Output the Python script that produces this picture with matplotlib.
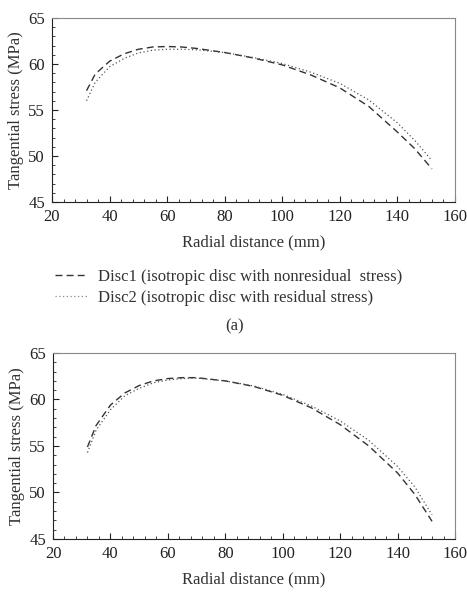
import matplotlib
matplotlib.use("Agg")
import matplotlib.pyplot as plt
from matplotlib.ticker import MultipleLocator
from matplotlib.lines import Line2D

# Radial position (mm)
radius = [32, 35, 40, 45, 50, 55, 60, 65, 70, 80, 90, 100, 110, 120, 130, 140, 146, 152]

# (a) tangential stress (MPa)
disc1_a = [57.1, 58.9, 60.3, 61.1, 61.6, 61.85, 61.9, 61.85, 61.7, 61.25, 60.65, 59.9, 58.8, 57.4, 55.4, 52.6, 50.8, 48.6]
disc2_a = [56.0, 58.0, 59.7, 60.6, 61.2, 61.5, 61.6, 61.6, 61.55, 61.25, 60.7, 60.05, 59.1, 57.9, 56.1, 53.6, 51.7, 49.5]

# (b) tangential stress (MPa)
disc1_b = [54.9, 57.2, 59.4, 60.7, 61.5, 62.0, 62.25, 62.35, 62.35, 62.0, 61.4, 60.45, 59.1, 57.3, 55.0, 52.1, 49.8, 46.9]
disc2_b = [54.3, 56.7, 58.9, 60.4, 61.2, 61.8, 62.1, 62.25, 62.3, 62.0, 61.45, 60.55, 59.3, 57.7, 55.6, 52.8, 50.6, 47.6]

legend_labels = ["Disc1 (isotropic disc with nonresidual  stress)",
                 "Disc2 (isotropic disc with residual stress)"]

plt.rcParams['font.family'] = ['Liberation Serif', 'DejaVu Serif']
line_color = '#333333'
fs = 12


def style_axes(ax):
    ax.set_xlim(20, 160)
    ax.set_ylim(45, 65)
    ax.xaxis.set_major_locator(MultipleLocator(20))
    ax.xaxis.set_minor_locator(MultipleLocator(4))
    ax.yaxis.set_major_locator(MultipleLocator(5))
    ax.yaxis.set_minor_locator(MultipleLocator(1))
    ax.tick_params(which='both', direction='in', top=False, right=False, labelsize=fs, colors='#222222')
    ax.tick_params(which='major', length=4, width=0.8, pad=5)
    ax.tick_params(which='minor', length=2, width=0.6)
    ax.spines['top'].set_color('#888888')
    ax.spines['right'].set_color('#888888')
    ax.spines['left'].set_color('#222222')
    ax.spines['bottom'].set_color('#222222')
    ax.set_xlabel("Radial distance (mm)", fontsize=fs, color='#333333', labelpad=7)
    ax.set_ylabel("Tangential stress (MPa)", fontsize=fs, color='#333333', labelpad=3)


fig = plt.figure(figsize=(4.67, 5.97), dpi=100)

ax1 = fig.add_axes([52 / 467, 1 - 202 / 597, 403 / 467, 184 / 597])
ax1.plot(radius, disc1_a, linestyle=(0, (5, 3)), color=line_color, lw=1.0)
ax1.plot(radius, disc2_a, linestyle=(0, (1, 2)), color='#555555', lw=0.9)
style_axes(ax1)

ax2 = fig.add_axes([53 / 467, 1 - 539 / 597, 402 / 467, 186 / 597])
ax2.plot(radius, disc1_b, linestyle=(0, (5, 3)), color=line_color, lw=1.0)
ax2.plot(radius, disc2_b, linestyle=(0, (1, 2)), color='#555555', lw=0.9)
style_axes(ax2)

handles = [Line2D([], [], linestyle=(0, (5, 3)), color=line_color, lw=1.0),
           Line2D([], [], linestyle=(0, (1, 2)), color='#888888', lw=0.9)]
fig.legend(handles, legend_labels, loc='upper left', bbox_to_anchor=(40 / 467, 1 - 254 / 597),
           frameon=False, fontsize=fs, handlelength=2.0, handletextpad=0.6, labelspacing=0.3,
           labelcolor='#333333')

fig.text(235 / 467, 1 - 326 / 597, "(a)", ha='center', va='center', fontsize=fs, color='#333333')

fig.savefig("out.png", dpi=100)
